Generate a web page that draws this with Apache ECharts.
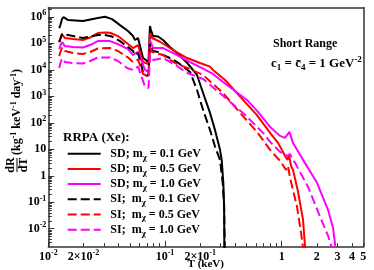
<!DOCTYPE html>
<html><head><meta charset="utf-8">
<script src="https://cdn.jsdelivr.net/npm/echarts@6/dist/echarts.min.js"></script>
<style>html,body{margin:0;padding:0;background:#fff}#c{width:374px;height:270px}</style>
</head><body><div id="c"></div>
<script>
// ---- data (T in keV, dR/dT in kg^-1 keV^-1 day^-1) ----
const T_SD01 = [0.0124,0.0127,0.0131,0.0135,0.0148,0.0198,0.0266,0.0306,0.0352,0.0411,0.0482,0.0532,0.0553,0.0587,0.0648,0.0722,0.0743,0.0758,0.0789,0.0871,0.0962,0.110,0.127,0.155,0.188,0.212,0.243,0.268,0.296,0.306,0.316,0.321,0.3224,0.3230];
const R_SD01 = [3.75e5,4.86e5,8.18e5,9.75e5,7.51e5,6.89e5,8.93e5,1.0e6,8.18e5,4.86e5,2.89e5,1.87e5,1.33e5,1.58e5,2.78e4,1.96e4,4.47e5,3.16e5,1.87e5,1.80e5,1.33e5,7.21e4,4.29e4,1.80e4,6.36e3,1.33e3,235,53.8,9.49,3.98,0.542,0.0675,0.00216,1e-4];

const T_SD05 = [0.0124,0.0127,0.0131,0.0135,0.0139,0.0163,0.0198,0.0228,0.0266,0.0306,0.0338,0.0395,0.0470,0.0532,0.0587,0.0648,0.0722,0.0743,0.0775,0.0906,0.117,0.155,0.1995,0.243,0.258,0.327,0.440,0.611,0.795,0.930,1.067,1.121,1.155,1.201,1.250,1.380,1.522,1.584,1.59];
const R_SD05 = [1.11e5,1.58e5,2.14e5,2.04e5,1.58e5,1.45e5,1.33e5,1.65e5,2.43e5,2.54e5,2.50e5,1.87e5,1.02e5,6.62e4,8.58e4,1.96e4,1.65e4,2.43e5,1.58e5,1.14e5,5.56e4,2.78e4,1.80e4,1.31e4,9.82e3,4.12e3,968,198,41.5,17.4,5.64,3.98,6.15,2.37,1.67,0.248,0.0218,0.00216,1e-4];

const T_SD10 = [0.0124,0.0127,0.0131,0.0135,0.0139,0.0163,0.0198,0.0228,0.0266,0.0338,0.0395,0.0482,0.0532,0.0587,0.0674,0.0722,0.0743,0.0789,0.0962,0.127,0.164,0.1995,0.258,0.314,0.504,0.626,0.795,0.967,1.067,1.166,1.250,1.522,2.007,2.493,2.752,2.891,2.90];
const R_SD10 = [6.07e4,8.22e4,1.11e5,1.02e5,7.87e4,7.21e4,6.91e4,8.58e4,1.21e5,1.21e5,9.36e4,6.07e4,3.60e4,4.80e4,9.82e3,8.25e3,1.33e5,6.62e4,6.62e4,3.60e4,1.96e4,1.27e4,6.93e3,3.47e3,727,256,69.8,32,26.9,45.3,17.4,3.98,0.542,0.052,0.0109,0.00193,1e-4];

const T_SI01 = [0.0124,0.0127,0.0131,0.0135,0.0148,0.0198,0.0266,0.0306,0.0352,0.0411,0.0482,0.0532,0.0553,0.0587,0.0648,0.0722,0.0743,0.0758,0.0789,0.0871,0.0962,0.110,0.127,0.148,0.164,0.188,0.212,0.243,0.268,0.296,0.312,0.321,0.325,0.3256];
const R_SI01 = [1.11e5,1.45e5,2.23e5,2.43e5,2.04e5,1.58e5,2.04e5,2.04e5,1.80e5,1.21e5,7.21e4,5.10e4,3.60e4,4.29e4,8.25e3,5.83e3,9.36e4,6.62e4,5.10e4,4.68e4,3.60e4,2.78e4,1.96e4,1.17e4,8.25e3,1.73e3,305,53.8,12.7,3.98,0.542,0.0675,0.00216,1e-4];

const T_SI05 = [0.0124,0.0127,0.0131,0.0135,0.0139,0.0163,0.0198,0.0228,0.0266,0.0338,0.0395,0.0482,0.0532,0.0587,0.0648,0.0722,0.0743,0.0775,0.0962,0.122,0.155,0.212,0.314,0.440,0.614,0.795,0.967,1.089,1.132,1.178,1.352,1.464,1.522,1.53];
const R_SI05 = [3.30e4,4.68e4,6.91e4,6.62e4,5.10e4,4.29e4,3.93e4,4.68e4,6.34e4,6.62e4,5.10e4,2.90e4,1.96e4,2.44e4,6.93e3,5.35e3,7.21e4,4.68e4,3.60e4,1.80e4,1.17e4,6.36e3,1.33e3,235,45.3,9.49,3.65,1.67,2.37,0.836,0.0675,0.00708,0.00193,1e-4];

const T_SI10 = [0.0124,0.0127,0.0131,0.0135,0.0139,0.0163,0.0198,0.0228,0.0266,0.0338,0.0395,0.0473,0.0532,0.0587,0.0674,0.0722,0.0743,0.0789,0.0962,0.127,0.155,0.212,0.314,0.466,0.692,0.795,0.967,1.110,1.178,1.226,1.300,1.680,2.128,2.493,2.68,2.69];
const R_SI10 = [1.17e4,1.80e4,2.66e4,2.55e4,1.96e4,1.80e4,1.72e4,2.15e4,2.90e4,2.90e4,2.15e4,1.17e4,9.82e3,1.31e4,2.30e3,2.05e3,3.60e4,2.34e4,2.78e4,1.39e4,7.56e3,4.49e3,1.04e3,235,41.5,19.0,7.98,5.64,6.57,4.74,3.07,0.383,0.0291,0.00546,0.00193,1e-4];

const SERIES_NAMES = ['SD; m_χ = 0.1 GeV','SD; m_χ = 0.5 GeV','SD; m_χ = 1.0 GeV','SI;  m_χ = 0.1 GeV','SI;  m_χ = 0.5 GeV','SI;  m_χ = 1.0 GeV'];

const X_TICKS = [0.01,0.02,0.1,0.2,1,2,3,4,5];
const X_TICK_LABELS = ['{b|10}{s|-2}','{b|2×10}{s|-2}','{b|10}{s|-1}','{b|2×10}{s|-1}','{b|1}','{b|2}','{b|3}','{b|4}','{b|5}'];
const Y_TICKS = [1e-2,1e-1,1,10,1e2,1e3,1e4,1e5,1e6];
const Y_TICK_LABELS = ['{b|10}{s|-2}','{b|10}{s|-1}','{b|1}','{b|10}','{b|10}{s|2}','{b|10}{s|3}','{b|10}{s|4}','{b|10}{s|5}','{b|10}{s|6}'];

const X_MIN = 0.01, X_MAX = 5, Y_MIN = 2.1e-3, Y_MAX = 2.24e6;

// ---- build ----
const L = Math.log10;
const FONT = '"Liberation Serif","Times New Roman",serif';
function pairs(T, R){ return T.map((t,i)=>[L(t), L(R[i])]); }
function decadeMinors(lo, hi){
  const out=[]; for(let n=-3;n<=7;n++){ for(let k=2;k<=9;k++){ const v=L(k*Math.pow(10,n)); if(v>=lo-1e-9 && v<=hi+1e-9) out.push(v);} } return out;
}
function decades(lo, hi){ const out=[]; for(let n=-3;n<=7;n++){ if(n>=lo-1e-9 && n<=hi+1e-9) out.push(n);} return out; }
function lookup(ticks, labels, v){ for(let i=0;i<ticks.length;i++){ if(Math.abs(L(ticks[i])-v)<1e-6) return labels[i]; } return ''; }

const xlo=L(X_MIN), xhi=L(X_MAX), ylo=L(Y_MIN), yhi=L(Y_MAX);
const richAxis = {
  b:{fontFamily:FONT,fontWeight:'bold',fontSize:12,color:'#000',lineHeight:12},
  s:{fontFamily:FONT,fontWeight:'bold',fontSize:8,color:'#000',lineHeight:12,padding:[0,0,7,0]}
};
const tickStyle = {color:'#333',width:1};
const frameLine = {show:true,onZero:false,lineStyle:{color:'#333',width:1.5}};
const noLine = {show:false,onZero:false};

const seriesDefs = [
  [T_SD01,R_SD01,'#000000','solid'],
  [T_SD05,R_SD05,'#ff0000','solid'],
  [T_SD10,R_SD10,'#ff00ff','solid'],
  [T_SI01,R_SI01,'#000000',[9,4]],
  [T_SI05,R_SI05,'#ff0000',[9,4]],
  [T_SI10,R_SI10,'#ff00ff',[9,4]]
];

const series = seriesDefs.map((d,i)=>({
  name: SERIES_NAMES[i], type:'line', xAxisIndex:0, yAxisIndex:0,
  data: pairs(d[0],d[1]), showSymbol:false, symbol:'none', clip:true,
  lineStyle:{color:d[2], width:2, type:d[3]}, itemStyle:{color:d[2]}, z: 3
}));

const chart = echarts.init(document.getElementById('c'), null, {renderer:'canvas'});
chart.setOption({
  animation:false,
  backgroundColor:'#fff',
  grid:{left:48.3,right:10.7,top:7.5,bottom:23.3,show:false,containLabel:false,outerBoundsMode:'none'},
  xAxis:[
    {type:'value',min:xlo,max:xhi,gridIndex:0,position:'bottom',
     axisLine:frameLine,splitLine:{show:false},
     axisTick:{show:true,inside:true,length:6,lineStyle:tickStyle,customValues:decades(xlo,xhi)},
     axisLabel:{show:true,margin:4,customValues:X_TICKS.map(L),formatter:v=>lookup(X_TICKS,X_TICK_LABELS,v),rich:richAxis},
     name:'T (keV)',nameLocation:'middle',nameGap:12,nameMoveOverlap:false,
     nameTextStyle:{fontFamily:FONT,fontWeight:'bold',fontSize:11,color:'#000',verticalAlign:'top'}},
    {type:'value',min:xlo,max:xhi,gridIndex:0,position:'bottom',offset:0,
     axisLine:noLine,splitLine:{show:false},axisLabel:{show:false},
     axisTick:{show:true,inside:true,length:3.5,lineStyle:tickStyle,customValues:decadeMinors(xlo,xhi)}},
    {type:'value',min:xlo,max:xhi,gridIndex:0,position:'top',offset:0,
     axisLine:frameLine,splitLine:{show:false},axisLabel:{show:false},axisTick:{show:false}}
  ],
  yAxis:[
    {type:'value',min:ylo,max:yhi,gridIndex:0,position:'left',
     axisLine:frameLine,splitLine:{show:false},
     axisTick:{show:true,inside:true,length:6,lineStyle:tickStyle,customValues:decades(ylo,yhi)},
     axisLabel:{show:true,margin:2,customValues:Y_TICKS.map(L),formatter:v=>lookup(Y_TICKS,Y_TICK_LABELS,v),rich:richAxis}},
    {type:'value',min:ylo,max:yhi,gridIndex:0,position:'left',offset:0,
     axisLine:noLine,splitLine:{show:false},axisLabel:{show:false},
     axisTick:{show:true,inside:true,length:3.5,lineStyle:tickStyle,customValues:decadeMinors(ylo,yhi)}},
    {type:'value',min:ylo,max:yhi,gridIndex:0,position:'right',offset:0,
     axisLine:frameLine,splitLine:{show:false},axisLabel:{show:false},axisTick:{show:false}}
  ],
  legend:{
    orient:'vertical',left:66.7,top:145.7,padding:0,itemWidth:33,itemHeight:12,itemGap:-0.8,
    data:SERIES_NAMES,
    itemStyle:{opacity:0,borderWidth:0},
    formatter:n=>'{b|'+n.replace('_χ','}{sub|χ}{b|')+'}',
    textStyle:{padding:[0,0,0,4.6],rich:{
      b:{fontFamily:FONT,fontWeight:'bold',fontSize:12,color:'#000',lineHeight:12},
      sub:{fontFamily:FONT,fontWeight:'bold',fontSize:9,color:'#000',lineHeight:12,padding:[7,0,0,0]}
    }}
  },
  graphic:[
    {type:'text',x:273,y:44,style:{text:'Short Range',font:'bold 12px '+FONT,fill:'#000',textAlign:'left',verticalAlign:'middle'}},
    {type:'text',x:271,y:64,style:{text:'{b|c}{sb|1}{b| = c\u0304}{sb|4}{b| = 1 GeV}{sp|-2}',textAlign:'left',verticalAlign:'middle',
      rich:{b:{fontFamily:FONT,fontWeight:'bold',fontSize:13,fill:'#000',lineHeight:14},
            sb:{fontFamily:FONT,fontWeight:'bold',fontSize:9,fill:'#000',lineHeight:14,padding:[7,0,0,0]},
            sp:{fontFamily:FONT,fontWeight:'bold',fontSize:9,fill:'#000',lineHeight:14,padding:[0,0,8,0]}}}},
    {type:'text',x:63,y:137.5,style:{text:'RRPA (Xe):',font:'bold 13px '+FONT,fill:'#000',textAlign:'left',verticalAlign:'middle'}},
    {type:'group',x:17,y:122,rotation:Math.PI/2,children:[
      {type:'text',x:-43,y:-6,style:{text:'dR',font:'bold 12px '+FONT,fill:'#000',textAlign:'center',verticalAlign:'middle'}},
      {type:'line',shape:{x1:-50,y1:0,x2:-36,y2:0},style:{stroke:'#000',lineWidth:1}},
      {type:'text',x:-43,y:6.5,style:{text:'dT',font:'bold 12px '+FONT,fill:'#000',textAlign:'center',verticalAlign:'middle'}},
      {type:'text',x:-33,y:0,style:{text:'{b|(kg}{s|-1}{b| keV}{s|-1}{b| day}{s|-1}{b|)}',textAlign:'left',verticalAlign:'middle',
        rich:{b:{fontFamily:FONT,fontWeight:'bold',fontSize:12,fill:'#000',lineHeight:12},
              s:{fontFamily:FONT,fontWeight:'bold',fontSize:8,fill:'#000',lineHeight:12,padding:[0,0,7,0]}}}}
    ]}
  ],
  series:series
});
</script>
</body></html>
